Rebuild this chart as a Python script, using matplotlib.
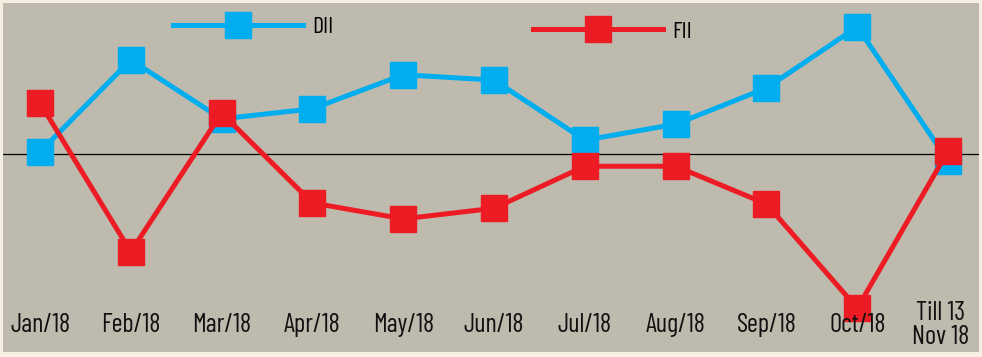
import matplotlib
matplotlib.use("Agg")
import matplotlib.pyplot as plt
from matplotlib.lines import Line2D
import matplotlib.transforms as mtransforms

plt.rcParams['font.family'] = ['Barlow Condensed', 'Asap Condensed', 'DejaVu Sans']

months = ["Jan/18", "Feb/18", "Mar/18", "Apr/18", "May/18", "Jun/18",
          "Jul/18", "Aug/18", "Sep/18", "Oct/18", "Till 13\nNov 18"]
# Net investment (approx., Rs crore)
dii = [400, 17700, 6600, 8500, 14900, 13900, 2600, 5600, 12400, 23900, -1300]
fii = [9600, -18400, 7700, -9200, -12200, -10200, -2300, -2300, -9400, -29000, 600]

BLUE = "#00AEEF"
RED = "#ED1C24"
BG = "#BEBAAE"
BORDER = "#F5F0E1"

fig = plt.figure(figsize=(9.82, 3.57), dpi=100, facecolor=BORDER)
ax = fig.add_axes([3/982, 5/357, 976/982, 349/357])
ax.set_facecolor(BG)
for s in ax.spines.values():
    s.set_visible(False)
ax.set_xticks([])
ax.set_yticks([])

x = list(range(len(months)))
ax.axhline(0, color="black", lw=0.9, zorder=1)
ax.plot(x, dii, color=BLUE, lw=3.6, marker="s", ms=18.5, mfc=BLUE, mec=BLUE, zorder=3)
ax.plot(x, fii, color=RED, lw=3.6, marker="s", ms=18.5, mfc=RED, mec=RED, zorder=4)

ax.set_xlim(-0.407, 10.34)
ax.set_ylim(-37224, 28388)

trans = mtransforms.blended_transform_factory(ax.transData, ax.transAxes)
for xi, lab in zip(x, months):
    ax.text(xi - (0.08 if "\n" in lab else 0), 0.078, lab, transform=trans,
            ha="center", va="center", fontsize=19, fontweight="normal",
            color="#111111", linespacing=1.0, zorder=6)

h_dii = Line2D([], [], color=BLUE, lw=3.6, marker="s", ms=18.5, mfc=BLUE, mec=BLUE)
h_fii = Line2D([], [], color=RED, lw=3.6, marker="s", ms=18.5, mfc=RED, mec=RED)
legkw = dict(loc="center left", frameon=False, borderpad=0, borderaxespad=0,
             handlelength=5.5, handletextpad=0.4, numpoints=1,
             prop={"size": 17, "weight": "normal"})
leg1 = ax.legend([h_dii], ["DII"], bbox_to_anchor=(0.174, 0.931), **legkw)
ax.add_artist(leg1)
ax.legend([h_fii], ["FII"], bbox_to_anchor=(0.543, 0.917), **legkw)

fig.savefig("out.png", dpi=100, facecolor=BORDER)
